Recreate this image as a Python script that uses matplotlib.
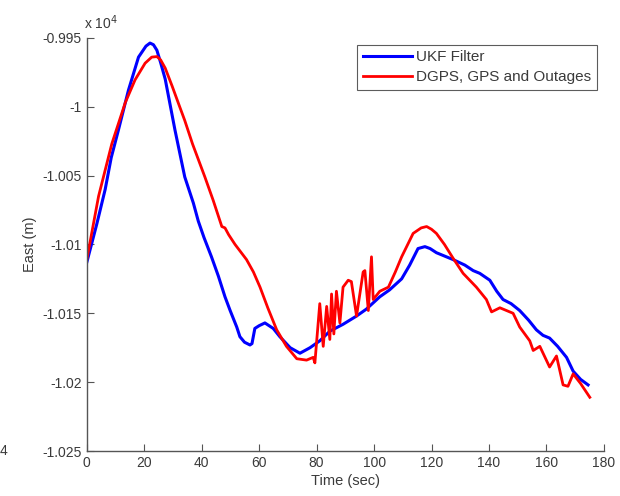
import numpy as np
import matplotlib
matplotlib.use('Agg')
import matplotlib.pyplot as plt

plt.rcParams['font.family'] = ['Liberation Sans', 'DejaVu Sans']

# UKF filter estimate (east, x 10^4 m)
ukf_t = [0, 3.5, 6.4, 8.5, 11.0, 14.5, 18.0, 20.6, 22.0, 23.2, 24.4, 25.7, 27.3, 30.7, 34.1,
         37.1, 38.8, 40.8, 43.4, 45.8, 48.1, 49.9, 52.2, 53.3, 54.9, 56.8, 57.5, 58.5, 60.0,
         62.0, 64.9, 67.2, 70.8, 74.2, 77.7, 81.1, 84.6, 89.2, 93.9, 97.3, 102.0, 105.4,
         109.6, 112.4, 115.3, 117.7, 119.5, 121.7, 127.5, 131.6, 134.5, 136.8, 140.3, 142.7,
         144.9, 147.7, 150.7, 153.8, 156.5, 158.8, 161.1, 163.9, 167.0, 169.3, 171.9, 174.5]
ukf_e = [-1.0113, -1.0085, -1.0060, -1.0037, -1.0017, -0.9988, -0.9964, -0.9956, -0.99538,
         -0.9955, -0.9959, -0.9968, -0.9980, -1.0017, -1.0051, -1.0070, -1.0083, -1.0095,
         -1.0109, -1.0123, -1.0138, -1.0148, -1.0160, -1.0167, -1.0171, -1.0173, -1.0172,
         -1.0161, -1.0159, -1.0157, -1.0161, -1.0167, -1.0175, -1.0179, -1.0175, -1.0170,
         -1.0163, -1.0158, -1.0152, -1.0147, -1.0138, -1.0133, -1.0125, -1.0115, -1.0103,
         -1.01016, -1.0103, -1.0106, -1.0111, -1.0115, -1.0119, -1.0121, -1.0126, -1.0134,
         -1.0140, -1.0143, -1.0148, -1.0155, -1.0162, -1.0166, -1.0168, -1.0174, -1.0182,
         -1.0192, -1.0198, -1.0202]

# DGPS, GPS and outages (east, x 10^4 m)
gps_t = [0, 4.1, 8.7, 13.4, 16.8, 20.3, 22.6, 24.4, 25.7, 27.3, 29.7, 31.8, 34.1, 36.8,
         41.1, 44.0, 47.0, 48.1, 49.4, 51.6, 55.6, 58.0, 60.3, 63.0, 66.1, 69.5, 73.1,
         76.5, 78.8, 79.4, 81.1, 82.3, 83.5, 84.6, 85.2, 86.0, 86.9, 88.1, 89.2, 91.0,
         92.1, 93.9, 96.2, 96.8, 98.0, 99.1, 99.7, 102.0, 105.0, 107.4, 109.6, 113.6,
         116.4, 118.3, 120.0, 121.7, 124.5, 127.5, 131.0, 135.6, 139.1, 140.9, 143.8,
         148.4, 150.7, 154.2, 155.4, 157.7, 161.1, 163.5, 165.8, 167.5, 169.3, 171.9, 175.1]
gps_e = [-1.0111, -1.0065, -1.0027, -0.9997, -0.99805, -0.99684, -0.9964, -0.99636, -0.9966,
         -0.9972, -0.9985, -0.9997, -1.0010, -1.0027, -1.0051, -1.0068, -1.0087, -1.0088,
         -1.0093, -1.0100, -1.0111, -1.0120, -1.0131, -1.0146, -1.0162, -1.0174, -1.0183,
         -1.0184, -1.0182, -1.0186, -1.0143, -1.0174, -1.0145, -1.0169, -1.0136, -1.0165,
         -1.0134, -1.0157, -1.0131, -1.0126, -1.0127, -1.0152, -1.0120, -1.0119, -1.0148,
         -1.0109, -1.0140, -1.0134, -1.0131, -1.0120, -1.0109, -1.0092, -1.0088, -1.0087,
         -1.0089, -1.0092, -1.0100, -1.0110, -1.0121, -1.0131, -1.0140, -1.0149, -1.0146,
         -1.0150, -1.0160, -1.0170, -1.0177, -1.0174, -1.0189, -1.0181, -1.0202, -1.0203,
         -1.0194, -1.0201, -1.0211]

x_ticks = np.arange(0, 181, 20)
y_ticks = [-1.025, -1.02, -1.015, -1.01, -1.005, -1, -0.995]

txt = '#3a3a3a'
fig = plt.figure(figsize=(6.2, 4.96), dpi=100)
ax = fig.add_axes([0.140, 0.0907, 0.834, 0.833])
ax.plot(ukf_t, ukf_e, color='#0000ff', linewidth=2.2, label='UKF Filter')
ax.plot(gps_t, gps_e, color='#ff0000', linewidth=2.0, label='DGPS, GPS and Outages')

ax.set_xlim(0, 180)
ax.set_ylim(-1.025, -0.995)
ax.set_xticks(x_ticks)
ax.set_yticks(y_ticks)
ax.set_yticklabels(['%g' % v for v in y_ticks])
ax.tick_params(direction='in', length=5, width=0.8, colors='#555555',
               labelcolor=txt, labelsize=10)
for s in ['top', 'right']:
    ax.spines[s].set_visible(False)
for s in ['left', 'bottom']:
    ax.spines[s].set_color('#555555')
    ax.spines[s].set_linewidth(1.0)

ax.set_xlabel('Time (sec)', color=txt, fontsize=10.5, labelpad=3)
ax.set_ylabel('East (m)', color=txt, fontsize=10.5, labelpad=4)
ax.text(-0.005, 1.015, r'x 10$^4$', transform=ax.transAxes, color=txt,
        fontsize=10, ha='left', va='bottom')
fig.text(0.0, 0.09, '4', color=txt, fontsize=10, va='center')

leg = ax.legend(loc='upper right', bbox_to_anchor=(0.986, 0.983), borderaxespad=0,
                fancybox=False, fontsize=11, handlelength=3.2, handletextpad=0.3,
                borderpad=0.35, labelspacing=0.4)
leg.get_frame().set_edgecolor('#333333')
leg.get_frame().set_linewidth(0.8)
for t in leg.get_texts():
    t.set_color(txt)

plt.savefig('out.png')
